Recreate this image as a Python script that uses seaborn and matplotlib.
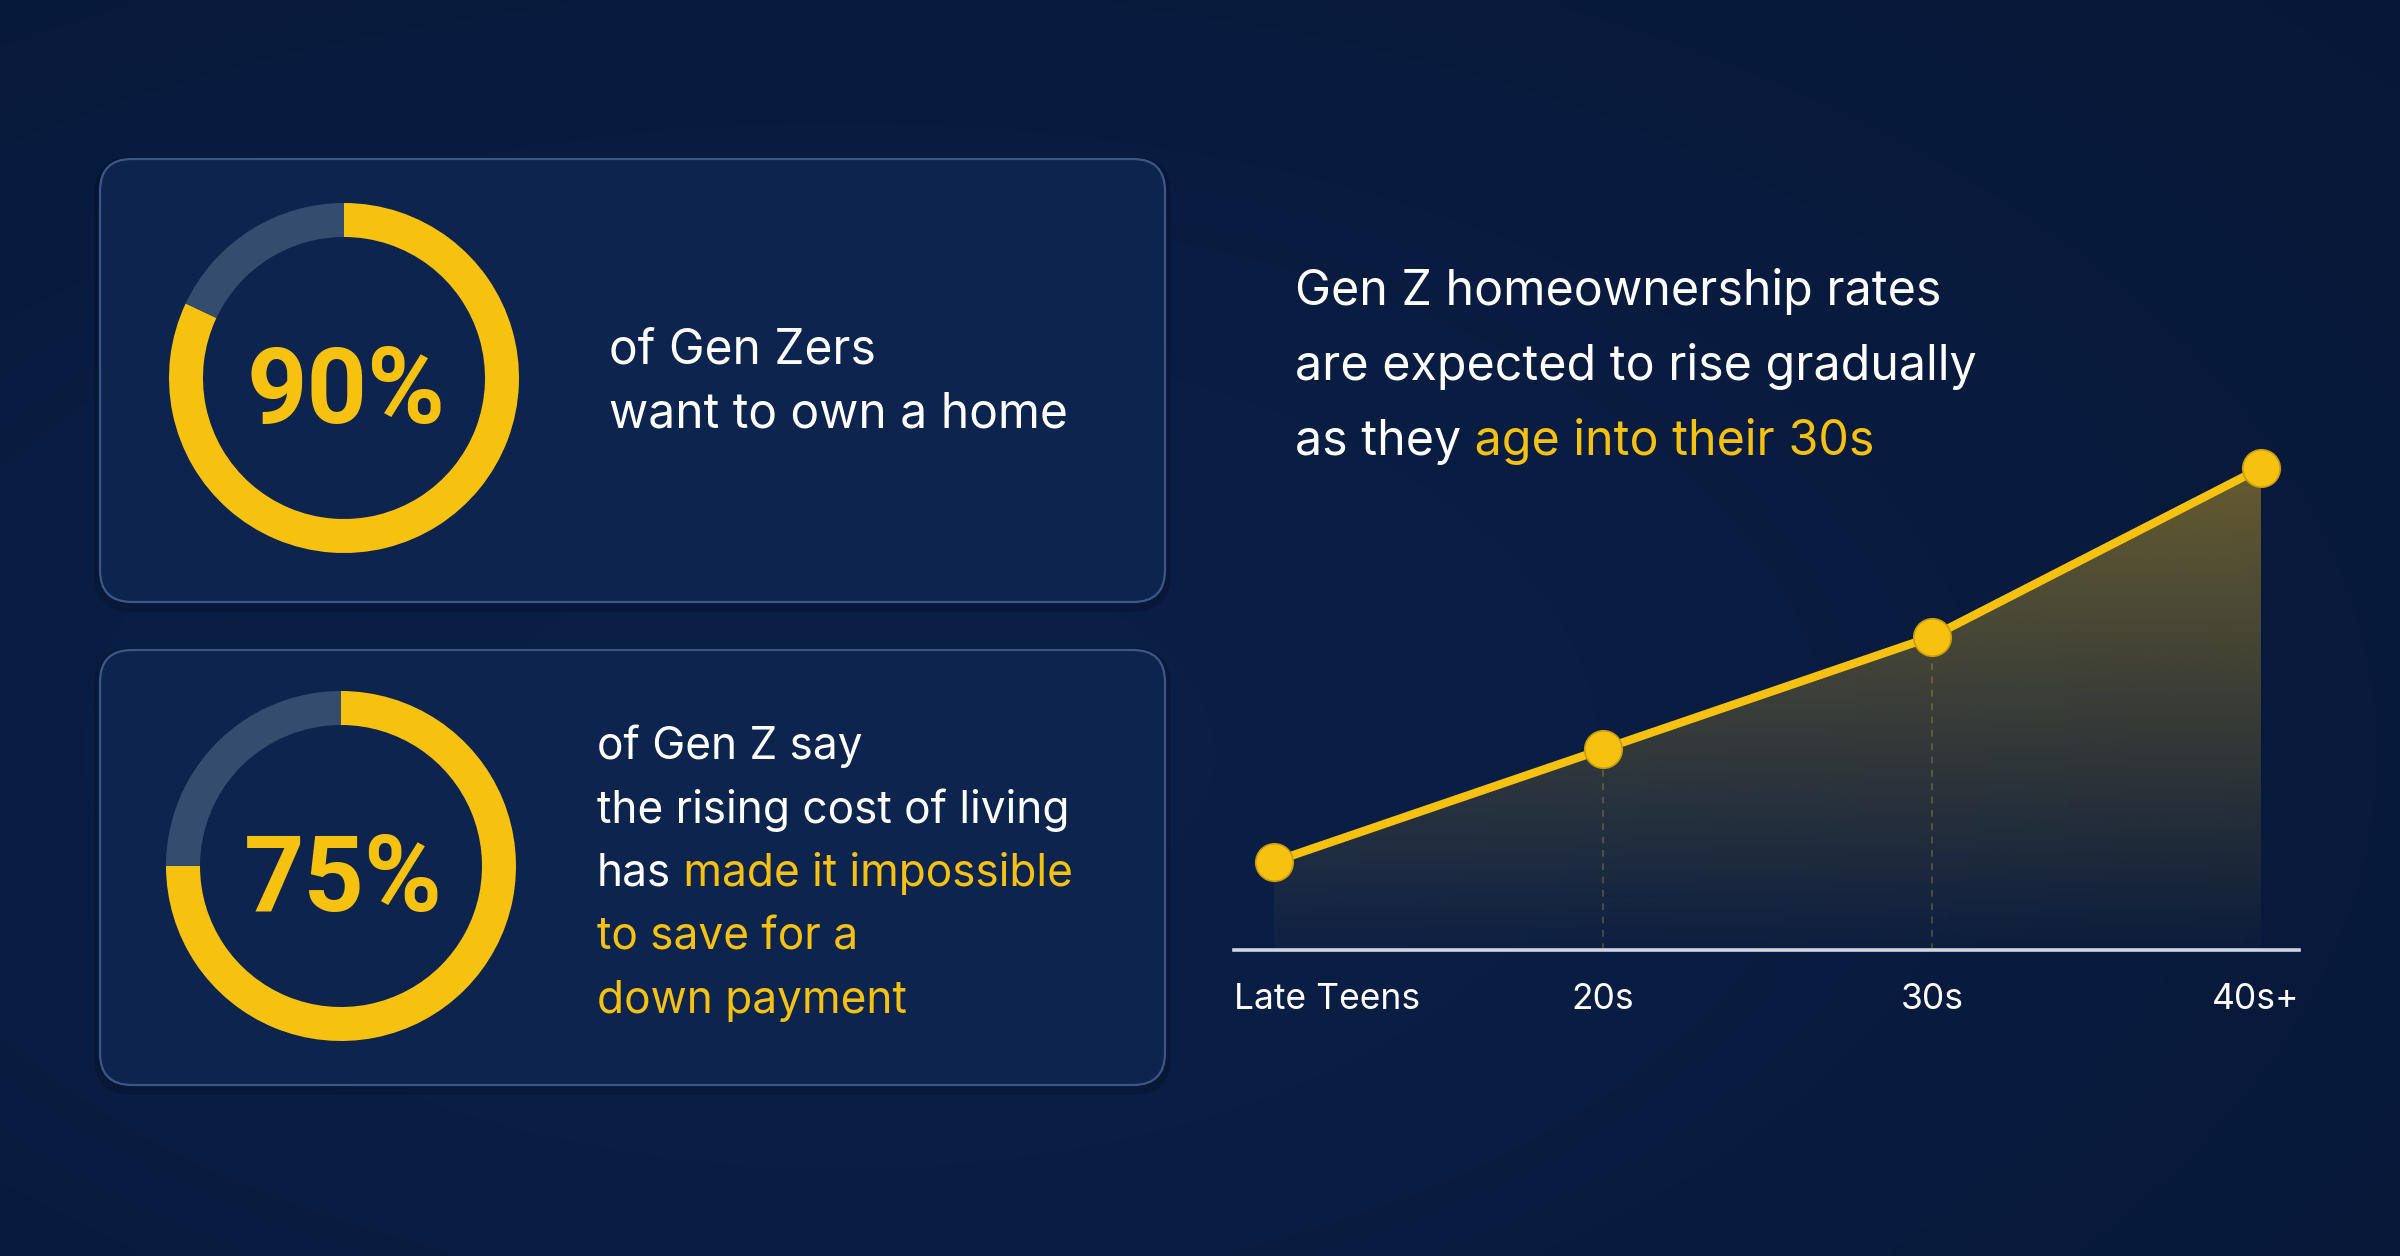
import numpy as np
import pandas as pd
import matplotlib
matplotlib.use("Agg")
import matplotlib.pyplot as plt
import seaborn as sns
from matplotlib.patches import FancyBboxPatch
from matplotlib.colors import to_rgb

# ---- data ----
stat_labels = ["90%", "75%"]
ring_filled = [82, 75]          # yellow share of each ring as drawn in the picture
card1_white = ["of Gen Zers", "want to own a home"]
card1_yellow = ["", ""]
card2_white = ["of Gen Z say", "the rising cost of living", "has", "", ""]
card2_yellow = ["", "", "made it impossible", "to save for a", "down payment"]
title_white = ["Gen Z homeownership rates", "are expected to rise gradually", "as they"]
title_yellow = ["", "", "age into their 30s"]
age_groups = ["Late Teens", "20s", "30s", "40s+"]
ownership = [11, 25, 39, 60]

YELLOW = "#f6c20f"
RING_GREY = "#344d6e"
WHITE = "#ffffff"

sns.set_theme(style="white")
plt.rcParams["font.family"] = ["Inter", "DejaVu Sans"]

W, H = 2400, 1256
fig = plt.figure(figsize=(W / 100, H / 100), dpi=100)

# background, pixel coordinates
bg = fig.add_axes([0, 0, 1, 1])
bg.set_xlim(0, W)
bg.set_ylim(H, 0)
bg.axis("off")
xx, yy = np.meshgrid(np.linspace(0, 1, 240), np.linspace(0, 1, 126))
glow = np.exp(-((xx - 0.35) ** 2 / 0.45 + (yy - 0.6) ** 2 / 0.5))
c0, c1 = np.array(to_rgb("#061634")), np.array(to_rgb("#0b1f47"))
img = c0 + (c1 - c0) * glow[..., None]
bg.imshow(img, extent=(0, W, H, 0), aspect="auto", zorder=0, interpolation="bicubic")

# cards
cards = [(100, 159, 1065, 443), (100, 650, 1065, 435)]
for (x, y, w, h) in cards:
    bg.add_patch(FancyBboxPatch((x - 6, y - 2), w + 12, h + 12,
                                boxstyle="round,pad=0,rounding_size=38",
                                fc="#020a1c", ec="none", alpha=0.25, zorder=1))
    bg.add_patch(FancyBboxPatch((x, y), w, h, boxstyle="round,pad=0,rounding_size=32",
                                fc="#0d244e", ec="#3d5784", lw=1.6, zorder=2))

# donut rings
centers = [(344, 378), (341, 866)]
R = 175
for (cx, cy), filled, label in zip(centers, ring_filled, stat_labels):
    ax_d = fig.add_axes([(cx - R) / W, 1 - (cy + R) / H, 2 * R / W, 2 * R / H])
    ax_d.pie([filled, 100 - filled], colors=[YELLOW, RING_GREY], startangle=90,
             counterclock=False, radius=1, wedgeprops=dict(width=34 / R, linewidth=0))
    ax_d.set_xlim(-1, 1)
    ax_d.set_ylim(-1, 1)
    ax_d.set_aspect("equal")
    ax_d.axis("off")
    bg.text(cx + 2, cy + 45, label, color=YELLOW, fontsize=76, fontweight="bold",
            family=["Roboto", "DejaVu Sans"], ha="center", va="baseline", zorder=5)


def draw_lines(x, baselines, whites, yellows, size):
    for yb, tw, ty in zip(baselines, whites, yellows):
        if tw:
            t = bg.text(x, yb, tw, color=WHITE, fontsize=size, ha="left", va="baseline", zorder=5)
            if ty:
                bg.annotate(" " + ty, xy=(1, 0), xycoords=t, color=YELLOW, fontsize=size,
                            ha="left", va="bottom", zorder=5)
        elif ty:
            bg.text(x, yb, ty, color=YELLOW, fontsize=size, ha="left", va="baseline", zorder=5)


draw_lines(609, [363, 428], card1_white, card1_yellow, 34.5)
draw_lines(597, [759, 823, 886, 950, 1013], card2_white, card2_yellow, 31.8)
draw_lines(1295, [305, 380, 455], title_white, title_yellow, 34.8)

# line chart
df = pd.DataFrame({"age": age_groups, "rate": ownership})
left_px, right_px, base_px, top_px = 1234, 2299, 950, 468
ax = fig.add_axes([left_px / W, 1 - base_px / H, (right_px - left_px) / W, (base_px - top_px) / H])
ax.patch.set_alpha(0)

sns.lineplot(data=df, x="age", y="rate", ax=ax, sort=False, color=YELLOW, lw=6,
             marker="o", markersize=27, markeredgecolor="#c99c0c", markeredgewidth=1.2,
             clip_on=False, zorder=6)

# category 0 sits at 1274 px, one category step is 329 px
first_px, step = 1274, 329
xlims = ((left_px - first_px) / step, (right_px - first_px) / step)

xs = np.arange(len(age_groups))
poly = ax.fill_between(xs, df["rate"], 0, color="none", lw=0)
grad = np.zeros((200, 2, 4))
grad[..., :3] = to_rgb("#e8b820")
grad[..., 3] = np.linspace(0.02, 0.42, 200)[:, None]
im = ax.imshow(grad, extent=(xs[0], xs[-1], 0, max(ownership)), origin="lower",
               aspect="auto", zorder=2, interpolation="bicubic")
im.set_clip_path(poly.get_paths()[0], transform=ax.transData)
ax.set_xlim(*xlims)
ax.set_ylim(0, 60)

ax.vlines(xs[1:3], 0, df["rate"][1:3], colors=[(0.9, 0.75, 0.3, 0.3)], lw=1.2,
          linestyles=(0, (4, 4)), zorder=3)

for s in ["top", "right", "left"]:
    ax.spines[s].set_visible(False)
ax.spines["bottom"].set_color("#cfd5e3")
ax.spines["bottom"].set_linewidth(2.6)
ax.set_xticks([])
ax.set_yticks([])
ax.set_xlabel("")
ax.set_ylabel("")

xl = ax.get_xlim()
label_pos = [(xl[0], "left"), (1, "center"), (2, "center"), (xl[1], "right")]
for (xp, ha), lab in zip(label_pos, age_groups):
    ax.annotate(lab, xy=(xp, 0), xycoords=("data", "axes fraction"), xytext=(0, -42.5),
                textcoords="offset points", ha=ha, va="baseline", color=WHITE,
                fontsize=25.5, annotation_clip=False)

fig.savefig("out.png", dpi=100)
